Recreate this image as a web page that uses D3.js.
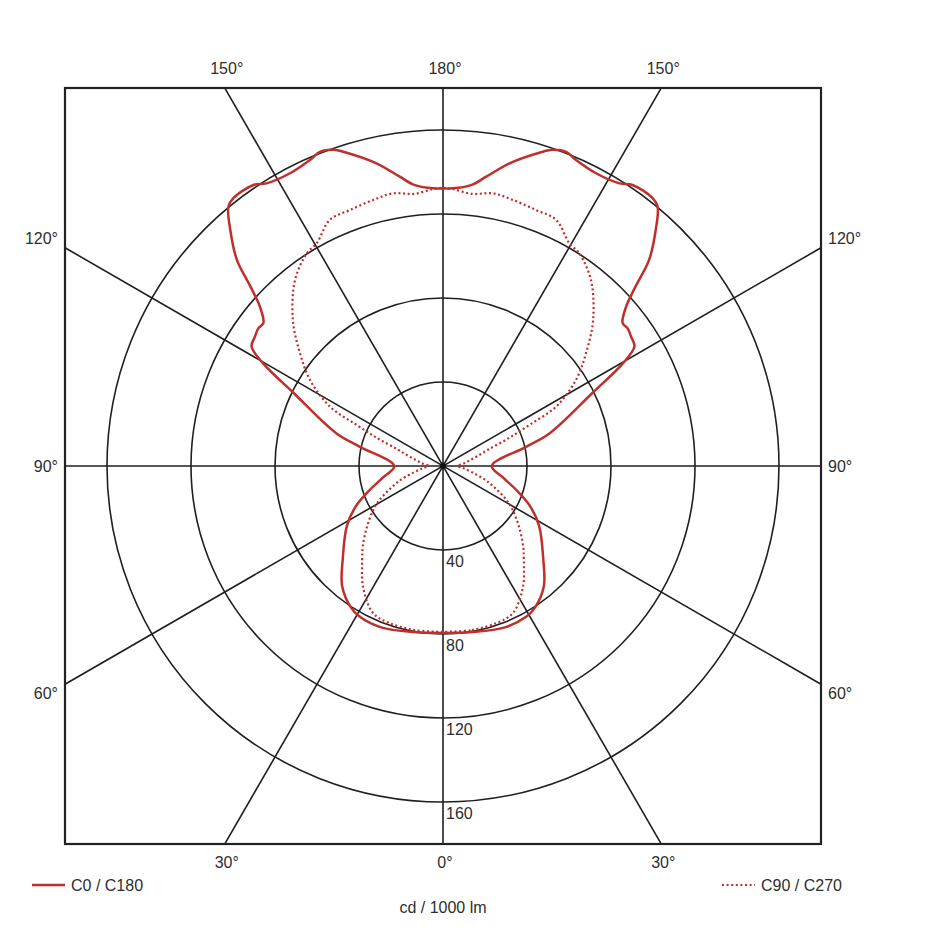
<!DOCTYPE html>
<html>
<head>
<meta charset="utf-8">
<script src="https://cdn.jsdelivr.net/npm/d3@7"></script>
<style>
  html, body { margin: 0; padding: 0; background: #fff; }
  svg text { font-family: "Liberation Sans", Arial, sans-serif; fill: #2e2e2e; }
</style>
</head>
<body>
<svg id="chart" width="940" height="940"></svg>
<script>
// ---- Data (gamma in degrees, 0 = straight down, 180 = straight up; values in cd / 1000 lm)
const c0Gamma = [0, 10, 21, 29, 33, 40, 47, 58, 65, 72, 79, 90, 103, 107, 116, 119.7, 122, 124.5, 126.7, 128.5, 131, 133, 135, 138, 140.4, 142, 146, 148, 152.4, 156.5, 158.6, 161, 162.4, 167.6, 171.5, 174.3, 178, 180];
const c0Values = [79.5, 80.3, 82.3, 82, 80.4, 74.7, 65.3, 54, 46, 36.6, 29.2, 23.2, 40.6, 53, 79, 98.6, 107.5, 108.7, 109.7, 109.3, 115.5, 125.4, 138.8, 151.4, 160.3, 162, 161.4, 158.7, 157.3, 158.9, 160.7, 159.3, 157, 147.6, 139.3, 134.4, 132.3, 132.3];
const c90Gamma = [0, 10, 19, 25.5, 33.5, 40.7, 45, 51.3, 58, 62, 67, 72, 78, 84, 90, 97, 102, 106, 110, 113, 115.5, 117.7, 122.9, 128.3, 134.2, 141.5, 147.4, 150.5, 155.3, 160, 165.3, 169.6, 174, 178, 180];
const c90Values = [79, 79.3, 79, 77.5, 69, 59, 54, 46.4, 39, 34, 27, 21, 14, 9.6, 7, 10, 13, 17, 23, 34, 46, 60.8, 75.4, 86.8, 99.7, 113.2, 120.3, 122, 129, 129.7, 131, 132, 130.3, 132, 132.5];
const ringValues = [40, 80, 120, 160];
const spokeAngles = [0, 30, 60, 90, 120, 150];
const topLabels = ["150°", "180°", "150°"];
const sideLabels = ["120°", "90°", "60°"];
const bottomLabels = ["30°", "0°", "30°"];
const seriesNames = ["C0 / C180", "C90 / C270"];
const unitLabel = "cd / 1000 lm";

// ---- Layout
const cx = 443, cy = 466;
const half = 378;           // half-size of square frame
const r = d3.scaleLinear().domain([0, 180]).range([0, half]);
const red = "#bf2f2b";
const gridColor = "#1f1f1f";

const svg = d3.select("#chart");
const g = svg.append("g").attr("transform", `translate(${cx},${cy})`);

svg.append("defs").append("clipPath").attr("id", "frame")
  .append("rect").attr("x", -half).attr("y", -half).attr("width", 2 * half).attr("height", 2 * half);

const grid = g.append("g").attr("clip-path", "url(#frame)");

grid.selectAll("circle.ring").data(ringValues).join("circle")
  .attr("class", "ring")
  .attr("r", d => r(d))
  .attr("fill", "none").attr("stroke", gridColor).attr("stroke-width", 1.6);

const far = r(400);
grid.selectAll("line.spoke").data(spokeAngles).join("line")
  .attr("class", "spoke")
  .attr("x1", d => -far * Math.sin(d * Math.PI / 180))
  .attr("y1", d => -far * Math.cos(d * Math.PI / 180))
  .attr("x2", d => far * Math.sin(d * Math.PI / 180))
  .attr("y2", d => far * Math.cos(d * Math.PI / 180))
  .attr("stroke", gridColor).attr("stroke-width", 1.6);

g.append("circle").attr("r", 3).attr("fill", "#111");

g.append("rect").attr("x", -half).attr("y", -half).attr("width", 2 * half).attr("height", 2 * half)
  .attr("fill", "none").attr("stroke", "#222").attr("stroke-width", 2.2);

g.selectAll("text.ringlab").data(ringValues).join("text")
  .attr("class", "ringlab")
  .attr("x", 3).attr("y", d => r(d) + 11)
  .attr("dominant-baseline", "central")
  .attr("font-size", 16)
  .text(d => d);

function fullCurve(gam, val) {
  const pts = [];
  for (let i = 0; i < gam.length; i++) pts.push([Math.PI - gam[i] * Math.PI / 180, val[i]]);
  for (let i = gam.length - 1; i >= 0; i--) pts.push([Math.PI + gam[i] * Math.PI / 180, val[i]]);
  return pts;
}
const radial = d3.lineRadial().angle(d => d[0]).radius(d => r(d[1])).curve(d3.curveCatmullRomClosed.alpha(0.5));

const curves = g.append("g").attr("clip-path", "url(#frame)");
curves.append("path")
  .attr("d", radial(fullCurve(c90Gamma, c90Values)))
  .attr("fill", "none").attr("stroke", red).attr("stroke-width", 2.2)
  .attr("stroke-dasharray", "2,2.6");
curves.append("path")
  .attr("d", radial(fullCurve(c0Gamma, c0Values)))
  .attr("fill", "none").attr("stroke", red).attr("stroke-width", 2.5)
  .attr("stroke-linejoin", "round");

const off = r(180) * Math.tan(30 * Math.PI / 180);
const xTop = [-off, 0, off];
const ySide = [-off - 9, 0, off + 9];
g.selectAll("text.top").data(topLabels).join("text")
  .attr("class", "top").attr("x", (d, i) => xTop[i] + 2).attr("y", -half - 20)
  .attr("text-anchor", "middle").attr("dominant-baseline", "central").attr("font-size", 16).text(d => d);
g.selectAll("text.bot").data(bottomLabels).join("text")
  .attr("class", "bot").attr("x", (d, i) => xTop[i] + 2).attr("y", half + 18)
  .attr("text-anchor", "middle").attr("dominant-baseline", "central").attr("font-size", 16).text(d => d);
g.selectAll("text.left").data(sideLabels).join("text")
  .attr("class", "left").attr("x", -half - 7).attr("y", (d, i) => ySide[i])
  .attr("text-anchor", "end").attr("dominant-baseline", "central").attr("font-size", 16).text(d => d);
g.selectAll("text.right").data(sideLabels).join("text")
  .attr("class", "right").attr("x", half + 7).attr("y", (d, i) => ySide[i])
  .attr("text-anchor", "start").attr("dominant-baseline", "central").attr("font-size", 16).text(d => d);

const leg = svg.append("g");
leg.append("line").attr("x1", 32).attr("x2", 65).attr("y1", 885).attr("y2", 885)
  .attr("stroke", red).attr("stroke-width", 2.6);
leg.append("text").attr("x", 71).attr("y", 885).attr("dominant-baseline", "central")
  .attr("font-size", 16).text(seriesNames[0]);
leg.append("line").attr("x1", 722).attr("x2", 755).attr("y1", 885).attr("y2", 885)
  .attr("stroke", red).attr("stroke-width", 2).attr("stroke-dasharray", "2,2.6");
leg.append("text").attr("x", 761).attr("y", 885).attr("dominant-baseline", "central")
  .attr("font-size", 16).text(seriesNames[1]);
svg.append("text").attr("x", cx).attr("y", 907).attr("text-anchor", "middle")
  .attr("dominant-baseline", "central").attr("font-size", 16).text(unitLabel);
</script>
</body>
</html>
